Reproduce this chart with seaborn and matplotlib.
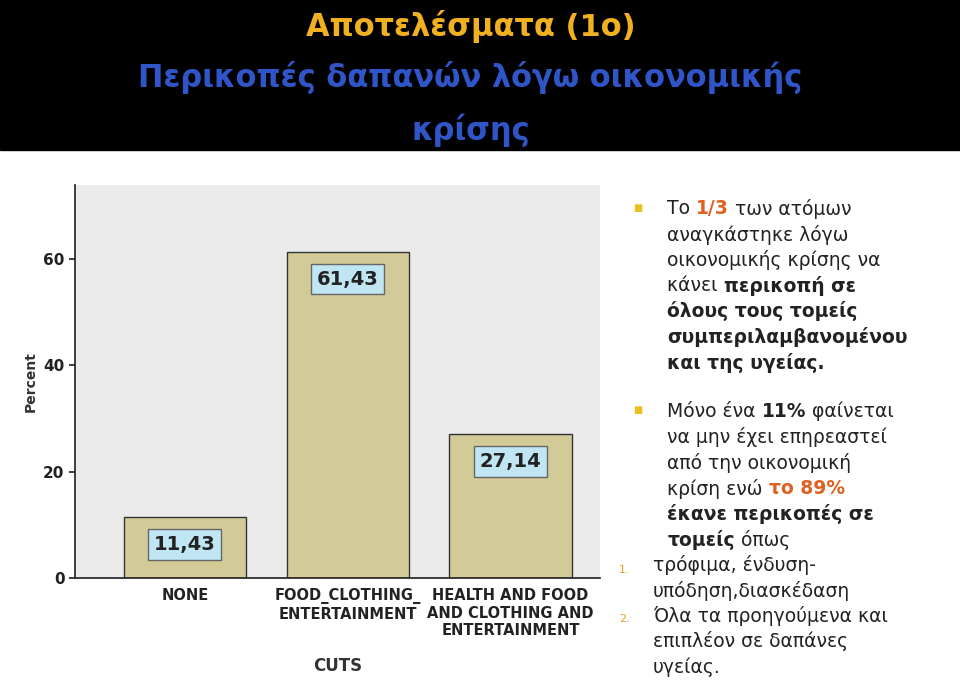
import matplotlib
matplotlib.use("Agg")
import matplotlib.pyplot as plt
import seaborn as sns
import pandas as pd
from matplotlib.patches import Rectangle

categories = ["NONE", "FOOD_CLOTHING_\nENTERTAINMENT", "HEALTH AND FOOD\nAND CLOTHING AND\nENTERTAINMENT"]
percents = [11.43, 61.43, 27.14]
labels = ["11,43", "61,43", "27,14"]
yticks = [0, 20, 40, 60]

sns.set_theme(style="white")
plt.rcParams['font.family'] = ['DejaVu Sans']
fig = plt.figure(figsize=(9.6, 6.92), dpi=100)
fig.patch.set_facecolor("white")

fig.patches.append(Rectangle((0, 1 - 150/692), 1, 150/692, transform=fig.transFigure, color="black", zorder=0))
fig.text(0.49, 0.962, "Αποτελέσματα (1ο)", color="#f0b020", fontsize=22, fontweight="bold", ha="center", va="center")
fig.text(0.49, 0.888, "Περικοπές δαπανών λόγω οικονομικής", color="#2f55c8", fontsize=22, fontweight="bold", ha="center", va="center")
fig.text(0.49, 0.812, "κρίσης", color="#2f55c8", fontsize=22, fontweight="bold", ha="center", va="center")

ax = fig.add_axes([0.078, 0.165, 0.547, 0.568])
ax.set_facecolor("#ebebeb")
df = pd.DataFrame({"cat": categories, "pct": percents})
sns.barplot(data=df, x="cat", y="pct", ax=ax, color="#d2cb97", edgecolor="#333333", linewidth=1, width=0.75, saturation=1)
ax.set_xlim(-0.675, 2.55)
ax.set_ylim(0, 74)
ax.set_yticks(yticks)
ax.set_yticklabels([str(t) for t in yticks], fontsize=11, fontweight="bold", color="#222222")
ax.tick_params(axis="x", labelsize=10.5, colors="#222222")
for t in ax.get_xticklabels():
    t.set_fontweight("bold")
ax.tick_params(axis="both", length=4, left=True, bottom=False)
ax.set_xlabel("CUTS", fontsize=12, fontweight="bold", color="#333333", labelpad=14)
ax.set_ylabel("Percent", fontsize=10, fontweight="bold", color="#333333")
for s in ["top", "right"]:
    ax.spines[s].set_visible(False)
for i, (v, lab) in enumerate(zip(percents, labels)):
    ax.text(i, v - 5.2, lab, ha="center", va="center", fontsize=14, fontweight="bold", color="#222222",
            bbox=dict(boxstyle="square,pad=0.3", fc="#bfe6f2", ec="#666666"))

tc = "#222222"
orange = "#e06020"
fs = 13.5
x0 = 0.695
renderer = fig.canvas.get_renderer()

def segs(x, y, parts):
    for txt, color, weight in parts:
        t = fig.text(x, y, txt, fontsize=fs, color=color, fontweight=weight, va="center")
        bb = t.get_window_extent(renderer=renderer)
        x += bb.width / fig.bbox.width

def line(y, txt, weight="normal", x=x0):
    fig.text(x, y, txt, fontsize=fs, color=tc, fontweight=weight, va="center")

fig.text(0.66, 0.7, "■", fontsize=7, color="#e8c020", va="center")
segs(x0, 0.698, [("Το ", tc, "normal"), ("1/3", orange, "bold"), (" των ατόμων", tc, "normal")])
line(0.661, "αναγκάστηκε λόγω")
line(0.624, "οικονομικής κρίσης να")
segs(x0, 0.587, [("κάνει ", tc, "normal"), ("περικοπή σε", tc, "bold")])
line(0.55, "όλους τους τομείς", "bold")
line(0.513, "συμπεριλαμβανομένου", "bold")
line(0.476, "και της υγείας.", "bold")

fig.text(0.66, 0.408, "■", fontsize=7, color="#e8c020", va="center")
segs(x0, 0.405, [("Μόνο ένα ", tc, "normal"), ("11%", tc, "bold"), (" φαίνεται", tc, "normal")])
line(0.368, "να μην έχει επηρεαστεί")
line(0.331, "από την οικονομική")
segs(x0, 0.294, [("κρίση ενώ ", tc, "normal"), ("το 89%", orange, "bold")])
line(0.257, "έκανε περικοπές σε", "bold")
segs(x0, 0.22, [("τομείς", tc, "bold"), (" όπως", tc, "normal")])
fig.text(0.645, 0.177, "1.", fontsize=8, color="#e0a020", va="center")
line(0.183, "τρόφιμα, ένδυση-", x=0.68)
line(0.146, "υπόδηση,διασκέδαση", x=0.68)
fig.text(0.645, 0.105, "2.", fontsize=8, color="#e0a020", va="center")
line(0.11, "Όλα τα προηγούμενα και", x=0.68)
line(0.073, "επιπλέον σε δαπάνες", x=0.68)
line(0.036, "υγείας.", x=0.68)

fig.savefig("out.png", dpi=100)
